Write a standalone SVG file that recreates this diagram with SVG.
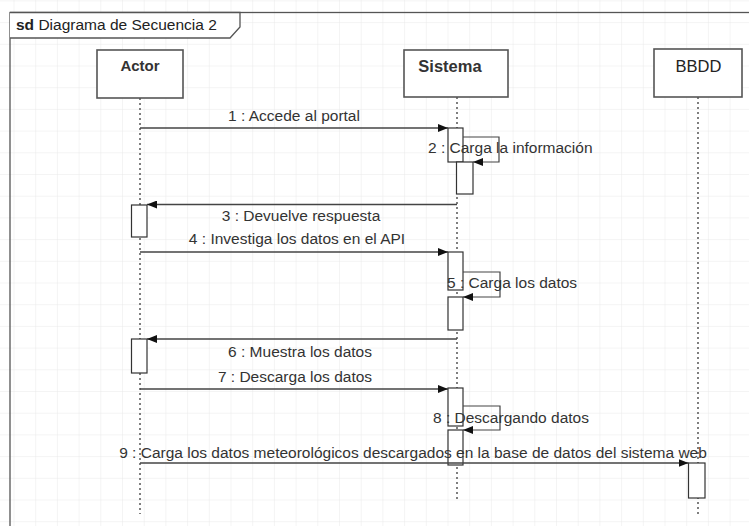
<svg xmlns="http://www.w3.org/2000/svg" width="749" height="526" viewBox="0 0 749 526">
  <defs>
    <pattern id="grid" x="13.5" y="0.4" width="21.7" height="21.7" patternUnits="userSpaceOnUse">
      <path d="M0,0 V21.7 M0,0 H21.7" fill="none" stroke="#e9e9e9" stroke-width="1"/>
    </pattern>
    <marker id="arrow" viewBox="0 0 10 8" refX="10" refY="4" markerWidth="10" markerHeight="8" markerUnits="userSpaceOnUse" orient="auto">
      <path d="M0,0 L10,4 L0,8 Z" fill="#111"/>
    </marker>
    <style>
      .lbl { font-family: "Liberation Sans", Arial, sans-serif; font-size: 15.5px; fill: #333; }
      .head { font-family: "Liberation Sans", Arial, sans-serif; font-size: 15px; font-weight: bold; fill: #333; text-anchor: middle; }
      .box { fill: #fff; stroke: #555; stroke-width: 1.6; }
      .life { stroke: #555; stroke-width: 1.5; stroke-dasharray: 2 3; fill: none; }
      .act { fill: #fff; stroke: #333; stroke-width: 1.2; }
      .msg { stroke: #444; stroke-width: 1.3; fill: none; marker-end: url(#arrow); }
      .loop { stroke: #444; stroke-width: 1.2; fill: none; marker-end: url(#arrow); }
    </style>
  </defs>

  <!-- background grid -->
  <rect x="0" y="0" width="749" height="526" fill="#fff"/>
  <rect x="0" y="0" width="749" height="526" fill="url(#grid)"/>

  <!-- sequence frame -->
  <g id="frame">
    <rect x="10" y="12.5" width="760" height="540" fill="none" stroke="#555" stroke-width="1.3"/>
    <path d="M10,12.5 H240 V27 L230,38 H10" fill="#fff" stroke="#555" stroke-width="1.3"/>
    <text x="16" y="29.5" class="lbl" style="fill:#222"><tspan font-weight="bold">sd</tspan> Diagrama de Secuencia 2</text>
  </g>

  <!-- lifelines -->
  <g id="actor">
    <line class="life" x1="140" y1="98" x2="140" y2="514"/>
    <rect class="box" x="97" y="50" width="86" height="48"/>
    <text class="head" x="140" y="71">Actor</text>
    <rect class="act" x="131.5" y="205" width="15.5" height="32"/>
    <rect class="act" x="131.5" y="339" width="15.5" height="34"/>
  </g>

  <g id="sistema">
    <line class="life" x1="457" y1="97" x2="457" y2="500"/>
    <rect class="box" x="404" y="50" width="104" height="47"/>
    <text class="head" x="450" y="71.5" style="font-size:16.5px">Sistema</text>
    <rect class="act" x="448" y="128" width="15" height="34"/>
    <rect class="act" x="456.5" y="162" width="16.5" height="32"/>
    <rect class="act" x="448" y="252" width="15" height="38"/>
    <rect class="act" x="448" y="297" width="15" height="33"/>
    <rect class="act" x="448" y="388" width="15" height="38"/>
    <rect class="act" x="448" y="430" width="15" height="35"/>
  </g>

  <g id="bbdd">
    <line class="life" x1="698" y1="97" x2="698" y2="516"/>
    <rect class="box" x="654" y="49" width="88" height="48"/>
    <text class="head" x="698.5" y="71.5" style="font-weight:normal;font-size:16.5px;fill:#222">BBDD</text>
    <rect class="act" x="688.5" y="463" width="16.5" height="35"/>
  </g>

  <!-- messages -->
  <g id="connectors">
    <line class="msg" x1="140" y1="128" x2="448" y2="128"/>
    <path class="loop" d="M463,137 H499 V162 H473"/>
    <line class="msg" x1="457" y1="204.5" x2="147" y2="204.5"/>
    <line class="msg" x1="140" y1="252" x2="448" y2="252"/>
    <path class="loop" d="M463,272 H500 V297 H463"/>
    <line class="msg" x1="457" y1="339" x2="147" y2="339"/>
    <line class="msg" x1="140" y1="389" x2="448" y2="389"/>
    <path class="loop" d="M463,406 H500 V430 H463"/>
    <line class="msg" x1="140" y1="463" x2="688.5" y2="463"/>
  </g>

  <!-- message labels -->
  <g id="labels">
    <text class="lbl" x="294" y="120.5" text-anchor="middle">1 : Accede al portal</text>
    <text class="lbl" x="428" y="152.5">2 : Carga la información</text>
    <text class="lbl" x="301" y="220.5" text-anchor="middle">3 : Devuelve respuesta</text>
    <text class="lbl" x="297" y="243.5" text-anchor="middle">4 : Investiga los datos en el API</text>
    <text class="lbl" x="447" y="287.5">5 : Carga los datos</text>
    <text class="lbl" x="300" y="356.5" text-anchor="middle">6 : Muestra los datos</text>
    <text class="lbl" x="295" y="381.5" text-anchor="middle">7 : Descarga los datos</text>
    <text class="lbl" x="433" y="422.5">8 : Descargando datos</text>
    <text class="lbl" x="413" y="457.5" text-anchor="middle">9 : Carga los datos meteorológicos descargados en la base de datos del sistema web</text>
  </g>
</svg>
